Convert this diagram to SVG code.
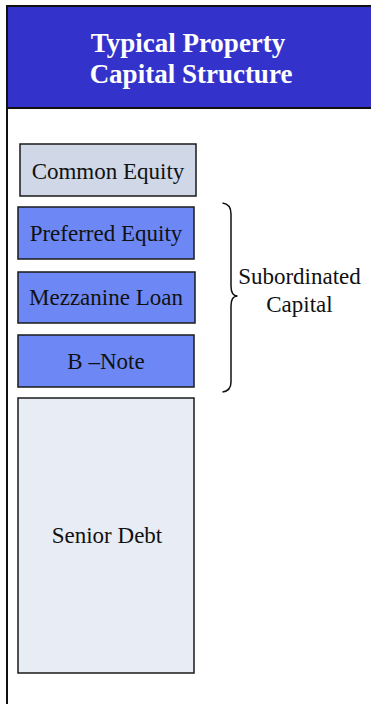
<svg xmlns="http://www.w3.org/2000/svg" width="371" height="704" viewBox="0 0 371 704">
  <style>
    .box { stroke: #1a1a1a; stroke-width: 1.5; }
    .lbl { fill: #111; text-anchor: middle; }
    .title { fill: #ffffff; text-anchor: middle; font-weight: bold; }
    .sub { fill: #6d88f5; }
  </style>
  <rect width="371" height="704" fill="#ffffff"/>

  <!-- outer frame and header band -->
  <g id="frame">
    <rect x="7" y="6" width="380" height="102" fill="#3333cc"/>
    <line x1="7" y1="6" x2="371" y2="6" stroke="#111" stroke-width="2"/>
    <line x1="7" y1="108" x2="371" y2="108" stroke="#111" stroke-width="2"/>
    <line x1="7" y1="5" x2="7" y2="704" stroke="#111" stroke-width="2"/>
  </g>
  <g id="title" font-family="'Liberation Serif', 'Times New Roman', serif" font-size="27">
    <text class="title" x="188" y="52">Typical Property</text>
    <text class="title" x="191" y="83">Capital Structure</text>
  </g>

  <g font-family="'Liberation Serif', 'Times New Roman', serif" font-size="23">
    <g id="common-equity">
      <rect class="box" x="20" y="144" width="176" height="52" fill="#d0d8e8"/>
      <text class="lbl" x="108" y="179">Common Equity</text>
    </g>
    <g id="preferred-equity">
      <rect class="box sub" x="18" y="207" width="176" height="52"/>
      <text class="lbl" x="106" y="241">Preferred Equity</text>
    </g>
    <g id="mezzanine-loan">
      <rect class="box sub" x="18" y="272" width="177" height="51"/>
      <text class="lbl" x="106" y="305">Mezzanine Loan</text>
    </g>
    <g id="b-note">
      <rect class="box sub" x="18" y="335" width="176" height="52"/>
      <text class="lbl" x="106" y="369">B –Note</text>
    </g>
    <g id="senior-debt">
      <rect class="box" x="18" y="398" width="176" height="275" fill="#e8ecf4"/>
      <text class="lbl" x="107" y="543">Senior Debt</text>
    </g>

    <!-- brace grouping the subordinated layers -->
    <g id="connectors">
      <path d="M222.5,203 Q231,204 231,214 L231,286 Q231,296 237.5,296 Q231,296 231,306 L231,382 Q231,391 222.5,392" fill="none" stroke="#111" stroke-width="1.5"/>
    </g>
    <g id="subordinated-capital">
      <text class="lbl" x="299.5" y="284">Subordinated</text>
      <text class="lbl" x="299.5" y="312">Capital</text>
    </g>
  </g>
</svg>
